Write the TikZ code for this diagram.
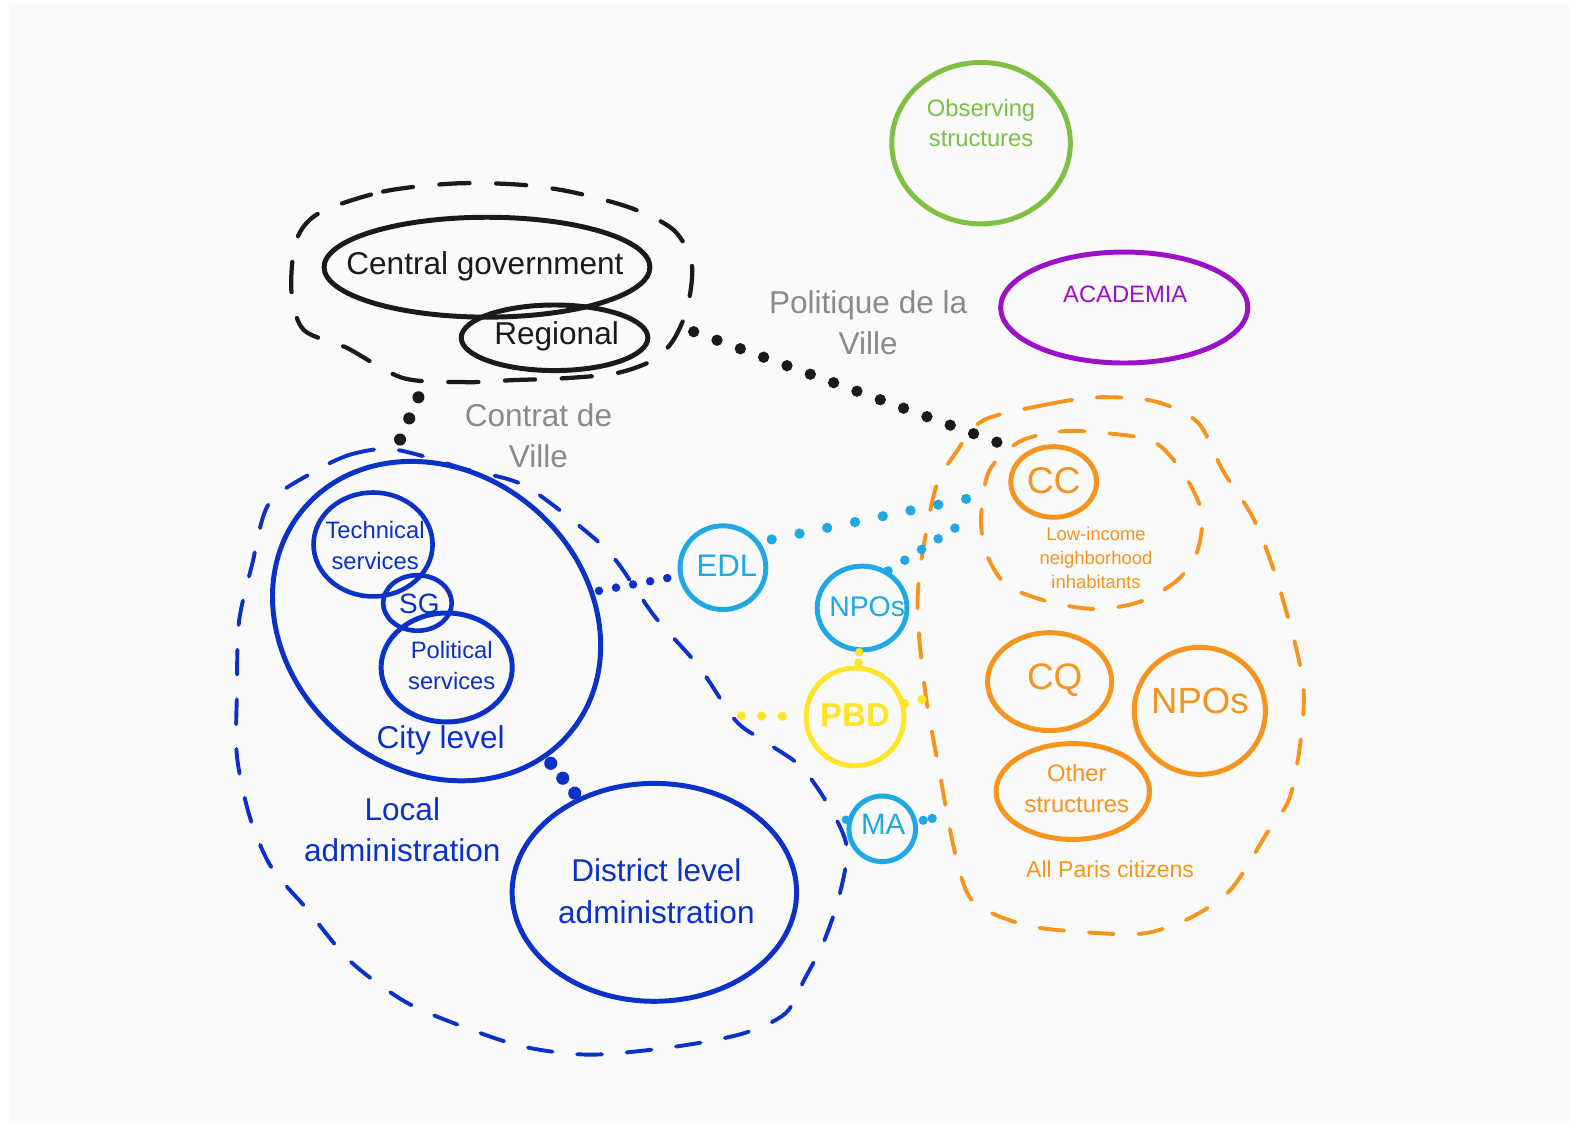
\documentclass[tikz,border=0pt]{standalone}
\usepackage{fontspec}
\setmainfont{Liberation Sans}
\usetikzlibrary{shapes.geometric}
\definecolor{inkblack}{RGB}{26,26,26}
\definecolor{inkgray}{RGB}{138,138,138}
\definecolor{inkgreen}{RGB}{125,192,66}
\definecolor{inkpurple}{RGB}{155,16,200}
\definecolor{inkorange}{RGB}{247,148,29}
\definecolor{inkcyan}{RGB}{30,168,228}
\definecolor{inkblue}{RGB}{10,50,200}
\definecolor{inkyellow}{RGB}{255,228,40}
\definecolor{paper}{RGB}{250,250,250}
\begin{document}
\begin{tikzpicture}[x=0.01cm,y=-0.01cm,
        bubble/.style={ellipse,draw,line width=1.4pt,inner sep=0pt},
        zoneline/.style={line width=1.1pt,line cap=round,dash pattern=on 7pt off 7pt},
        linkdots/.style={line width=3pt,line cap=round,dash pattern=on 0pt off 6.8pt},
        bigtext/.style={font=\fontsize{8.9}{11.7}\selectfont,align=center},
        midtext/.style={font=\fontsize{6.7}{8.5}\selectfont,align=center},
        smalltext/.style={font=\fontsize{5.2}{6.8}\selectfont,align=center}]
    \path[fill=white,use as bounding box] (0,0) rectangle (1568,1121);
    \fill[paper] (9,4) rectangle (1556,1114);

    \draw[zoneline,inkblack,line width=1.2pt,dash pattern=on 8.5pt off 7.5pt] plot[smooth cycle] coordinates {(317,211) (380,190) (450,182) (513,183) (565,190) (625,206) (668,228) (686,261) (682,304) (668,337) (648,357) (612,370) (562,375) (509,377) (463,379) (400,375) (344,345) (301,327) (289,288) (294,238)};
    \draw[zoneline,inkblue] plot[smooth cycle] coordinates {(313,467) (347,451) (384,445) (422,453) (460,465) (519,481) (580,526) (611,556) (649,611) (693,661) (729,714) (756,734) (794,760) (823,801) (840,841) (832,890) (817,934) (798,971) (779,1005) (737,1025) (670,1038) (586,1046) (519,1038) (456,1017) (401,993) (347,953) (303,900) (269,860) (248,811) (235,750) (235,685) (237,617) (250,560) (267,499)};
    \draw[zoneline,inkorange] plot[smooth cycle] coordinates {(975,417) (1039,401) (1089,394) (1145,398) (1188,419) (1213,467) (1245,518) (1271,590) (1293,686) (1281,785) (1256,827) (1220,883) (1177,912) (1132,926) (1069,924) (1015,917) (965,894) (947,845) (932,767) (918,689) (910,608) (914,555) (928,484) (948,449)};
    \draw[zoneline,inkorange] plot[smooth cycle] coordinates {(1011,438) (1051,428) (1091,429) (1144,438) (1174,470) (1192,509) (1187,548) (1167,576) (1130,597) (1087,604) (1041,597) (998,580) (978,548) (973,513) (981,467)};

    \node[bubble,inkblack,minimum width=3.23cm,minimum height=0.99cm] (cgov) at (483,265) {};
    \node[bubble,inkblack,minimum width=1.85cm,minimum height=0.65cm] (reg) at (550,335) {};
    \node[bigtext,inkblack] (cgovtext) at (481,264) {Central government};
    \node[bigtext,inkblack] (regtext) at (552,334) {Regional};

    \node[bigtext,inkgray] (contrat) at (534,432) {Contrat de\\Ville};
    \node[bigtext,inkgray] (politique) at (861,320) {Politique de la\\Ville};

    \node[bubble,inkgreen,minimum width=1.77cm,minimum height=1.6cm] (obs) at (973,142) {};
    \node[midtext,inkgreen] (obstext) at (973,122) {Observing\\structures};
    \node[bubble,inkpurple,minimum width=2.45cm,minimum height=1.1cm] (acad) at (1115,305) {};
    \node[midtext,inkpurple] (acadtext) at (1116,292) {ACADEMIA};

    \node[bubble,inkblue,rotate=-40,minimum width=3.45cm,minimum height=2.95cm] (city) at (433,616) {};
    \node[bubble,inkblue,line width=1.3pt,minimum width=1.18cm,minimum height=1.03cm] (tech) at (370,540) {};
    \node[bubble,inkblue,line width=1.3pt,minimum width=0.68cm,minimum height=0.55cm] (sg) at (414,598) {};
    \node[bubble,inkblue,minimum width=1.3cm,minimum height=1.08cm] (pol) at (443,662) {};
    \node[bubble,inkblue,minimum width=2.82cm,minimum height=2.16cm] (district) at (649,885) {};
    \node[midtext,inkblue] (techtext) at (372,541) {Technical\\services};
    \node[inkblue,font=\fontsize{7.9}{9}\selectfont] (sgtext) at (416,599) {SG};
    \node[midtext,inkblue] (poltext) at (448,660) {Political\\services};
    \node[bigtext,inkblue] (citytext) at (437,734) {City level};
    \node[bigtext,inkblue] (localtext) at (399,823) {Local\\administration};
    \node[bigtext,inkblue] (districttext) at (651,884) {District level\\administration};

    \node[bubble,inkcyan,minimum width=0.85cm,minimum height=0.83cm] (edl) at (717,563) {};
    \node[inkcyan,font=\fontsize{8.8}{10}\selectfont] (edltext) at (721,561) {EDL};
    \node[bubble,inkcyan,minimum width=0.89cm,minimum height=0.83cm] (npob) at (855,603) {};
    \node[inkcyan,font=\fontsize{8}{9}\selectfont] (npobtext) at (860,602) {NPOs};
    \node[bubble,inkyellow,minimum width=0.97cm,minimum height=0.97cm] (pbd) at (848,711) {};
    \node[inkyellow,font=\fontsize{9.3}{10}\selectfont\bfseries] (pbdtext) at (848,709) {PBD};
    \node[bubble,inkcyan,minimum width=0.66cm,minimum height=0.65cm] (ma) at (875,822) {};
    \node[inkcyan,font=\fontsize{8.3}{9}\selectfont] (matext) at (876,818) {MA};

    \node[bubble,inkorange,minimum width=0.85cm,minimum height=0.7cm] (cc) at (1045,478) {};
    \node[inkorange,font=\fontsize{10.5}{12}\selectfont] (cctext) at (1045,477) {CC};
    \node[smalltext,inkorange] (lowtext) at (1087,553) {Low-income\\neighborhood\\inhabitants};
    \node[bubble,inkorange,minimum width=1.23cm,minimum height=0.97cm] (cq) at (1041,676) {};
    \node[inkorange,font=\fontsize{10.4}{12}\selectfont] (cqtext) at (1046,675) {CQ};
    \node[bubble,inkorange,minimum width=1.3cm,minimum height=1.26cm] (npoo) at (1190,705) {};
    \node[inkorange,font=\fontsize{10.3}{12}\selectfont] (npootext) at (1190,695) {NPOs};
    \node[bubble,inkorange,minimum width=1.52cm,minimum height=0.95cm] (other) at (1064,785) {};
    \node[midtext,inkorange] (othertext) at (1068,782) {Other\\structures};
    \node[inkorange,font=\fontsize{6.5}{8}\selectfont] (paristext) at (1101,862) {All Paris citizens};

    \coordinate (govfoot) at (415,394);
    \coordinate (localhead) at (395,440);
    \coordinate (govside) at (688,329);
    \coordinate (ccnear) at (990,439);
    \coordinate (lowwest) at (962,494);
    \coordinate (lowsw) at (956,518);
    \coordinate (localedge) at (735,710);
    \coordinate (pariswest) at (918,693);
    \coordinate (maleft) at (839,813);
    \coordinate (parisma) at (928,811);

    \draw[linkdots,inkblack,line width=3.4pt,dash pattern=on 0pt off 6.5pt] (govfoot) -- (localhead);
    \draw[linkdots,inkblack,line width=3.2pt,dash pattern=on 0pt off 7pt] (govside) -- (ccnear);
    \draw[linkdots,inkblue,line width=2.4pt,dash pattern=on 0pt off 4.9pt,shorten <=0.05cm,shorten >=0.05cm] (city) -- (edl);
    \draw[linkdots,inkblue,line width=3.7pt,dash pattern=on 0pt off 5.4pt,shorten <=0.07cm,shorten >=0.05cm] (city) -- (district);
    \draw[linkdots,inkcyan,line width=2.9pt,dash pattern=on 0pt off 8pt,shorten <=0.12cm] (edl.35) -- (lowwest);
    \draw[linkdots,inkcyan,line width=2.7pt,dash pattern=on 0pt off 5.6pt] (npob.55) -- (lowsw);
    \draw[linkdots,inkyellow,line width=2.4pt,dash pattern=on 0pt off 2.9pt] (npob) -- (pbd);
    \draw[linkdots,inkyellow,line width=2.6pt,dash pattern=on 0pt off 5.8pt,shorten >=0.1cm] (localedge) -- (pbd);
    \draw[linkdots,inkyellow,line width=2.6pt,dash pattern=on 0pt off 5pt] (pbd.15) -- (pariswest);
    \draw[linkdots,inkcyan,line width=2.4pt,dash pattern=on 0pt off 5pt] (maleft) -- (ma);
    \draw[linkdots,inkcyan,line width=2.6pt,dash pattern=on 0pt off 2.6pt,shorten <=0.06cm] (ma) -- (parisma);
\end{tikzpicture}
\end{document}
